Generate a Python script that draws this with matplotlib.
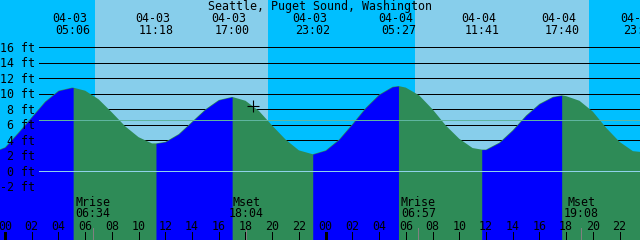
import matplotlib
matplotlib.use("Agg")
import matplotlib.pyplot as plt
import matplotlib.transforms as mtransforms
import numpy as np

station = "Seattle, Puget Sound, Washington"

# highs and lows (the first one is just before the left edge, the last one at the right edge)
tide_stamps = ["04-02 22:30", "04-03 05:06", "04-03 11:18", "04-03 17:00", "04-03 23:02",
               "04-04 05:27", "04-04 11:41", "04-04 17:40", "04-04 23:34"]
tide_ft = [2.3, 10.8, 3.6, 9.6, 2.2, 11.0, 2.8, 9.8, 2.5]

# water level every hour, from 04-03 -01:00 to 04-04 23:00
hourly_start = -1
hourly_ft = [2.4, 3.1, 5.0, 7.0, 9.0, 10.4, 10.8, 10.4, 9.3, 7.6, 5.8, 4.4, 3.6,
             3.8, 4.8, 6.4, 8.0, 9.2, 9.6, 9.1, 7.8, 5.9, 4.1, 2.7, 2.2,
             2.7, 4.1, 6.1, 8.2, 9.9, 10.9, 10.8, 9.8, 8.0, 5.9, 4.2, 3.0,
             2.8, 3.7, 5.3, 7.2, 8.7, 9.6, 9.7, 9.1, 7.7, 5.6, 3.8, 2.6]

sun_stamps = ["04-03 06:44", "04-03 19:41", "04-04 06:42", "04-04 19:42"]
moon_names = ["Mrise", "Mset", "Mrise", "Mset"]
moon_stamps = ["04-03 06:34", "04-03 18:04", "04-04 06:57", "04-04 19:08"]
now_stamp = "04-03 18:33"
now_ft = 8.4

grid_ft = [-2, 0, 2, 4, 6, 8, 10, 12, 14, 16]
msl_ft = 6.6

night_col = "#00bfff"
day_col = "#87ceeb"
rise_col = "#0000ff"
fall_col = "#2e8b57"


def hours(stamp):
    d, t = stamp.split()
    hh, mm = t.split(":")
    return (int(d[3:]) - 3) * 24 + int(hh) + int(mm) / 60.0


W, H = 640, 240
px_hour = 13.36
x0 = 5.0
px_ft = 7.75
zero_px = 171.3

plt.rcParams['font.family'] = 'DejaVu Sans Mono'
fs = 8.4

fig = plt.figure(figsize=(6.4, 2.4), dpi=100)
ax = fig.add_axes([0, 0, 1, 1])
ax.set_xlim(-x0 / px_hour, (W - x0) / px_hour)
ymin = (zero_px - H) / px_ft
ax.set_ylim(ymin, zero_px / px_ft)
ax.axis('off')

# day / night background
sun_h = [hours(s) for s in sun_stamps]
edges = [-10] + sun_h + [60]
for i in range(len(edges) - 1):
    ax.axvspan(edges[i], edges[i + 1], color=night_col if i % 2 == 0 else day_col, lw=0, zorder=0)

ya = ax.get_yaxis_transform()
xa = ax.get_xaxis_transform()

# grid lines, hidden below the water
ax.hlines(grid_ft, 39 / W, 1, transform=ya, color='black', lw=0.6, antialiased=False, zorder=1)

# tide curve: whole area in the falling colour, rising parts drawn on top
tide_h = np.array([hours(s) for s in tide_stamps])
hourly_h = np.arange(len(hourly_ft)) + hourly_start
keep = np.array([np.min(np.abs(tide_h - h)) > 0.05 for h in hourly_h])
t = np.concatenate([hourly_h[keep], tide_h])
ft = np.concatenate([np.array(hourly_ft)[keep], tide_ft])
order = np.argsort(t)
t, ft = t[order], ft[order]
ax.fill_between(t, ymin - 1, ft, color=fall_col, lw=0, zorder=2)
for i in range(len(tide_h) - 1):
    if tide_ft[i + 1] > tide_ft[i]:
        m = (t >= tide_h[i]) & (t <= tide_h[i + 1])
        ax.fill_between(t[m], ymin - 1, ft[m], color=rise_col, lw=0, zorder=2.1)

# mean sea level and datum lines
ax.hlines([msl_ft], 39 / W, 1, transform=ya, color='#5fb5a0', lw=0.6, antialiased=False, zorder=3)
ax.hlines([0], 39 / W, 1, transform=ya, color='#8fd2ea', lw=0.6, antialiased=False, zorder=3)

# height labels
lab_tr = mtransforms.offset_copy(ya, fig=fig, x=0, y=-4.4, units='dots')
for g in grid_ft:
    ax.text(35 / W, g, "%d ft" % g, transform=lab_tr, ha='right', va='baseline', fontsize=fs, zorder=5)

# title and tide event labels
ax.text(0.5, 1 - 10 / H, station, transform=ax.transAxes, ha='center', va='baseline', fontsize=fs, zorder=5)
date_tr = mtransforms.offset_copy(xa, fig=fig, x=-3, y=0, units='dots')
for s in tide_stamps[1:]:
    d, tm = s.split()
    ax.text(hours(s), 1 - 22 / H, d, transform=date_tr, ha='center', va='baseline', fontsize=fs, zorder=5)
    ax.text(hours(s), 1 - 34 / H, tm, transform=xa, ha='center', va='baseline', fontsize=fs, zorder=5)

# moon events
for name, s in zip(moon_names, moon_stamps):
    ax.text(hours(s), 1 - 206 / H, name, transform=xa, ha='center', va='baseline', fontsize=fs, zorder=5)
    ax.text(hours(s), 1 - 217.3 / H, s.split()[1], transform=xa, ha='center', va='baseline', fontsize=fs, zorder=5)
ax.vlines([hours(s) for s in moon_stamps], 0, 12 / H, transform=xa, color='#808080', lw=0.6,
          antialiased=False, zorder=4)

# hour ticks and labels
tick_h = np.arange(0, 50, 2)
for h in tick_h:
    ax.text(h, 1 - 230 / H, "%02d" % (h % 24), transform=xa, ha='center', va='baseline', fontsize=fs, zorder=5)
    ax.vlines(h, 0, 8 / H, transform=xa, color='black', lw=2.0 if h % 24 == 0 else 0.6,
              antialiased=False, zorder=4)

# current time marker
ax.plot(hours(now_stamp), now_ft, marker='+', color='black', ms=8, mew=0.8, zorder=6)

fig.savefig("out.png", dpi=100)
